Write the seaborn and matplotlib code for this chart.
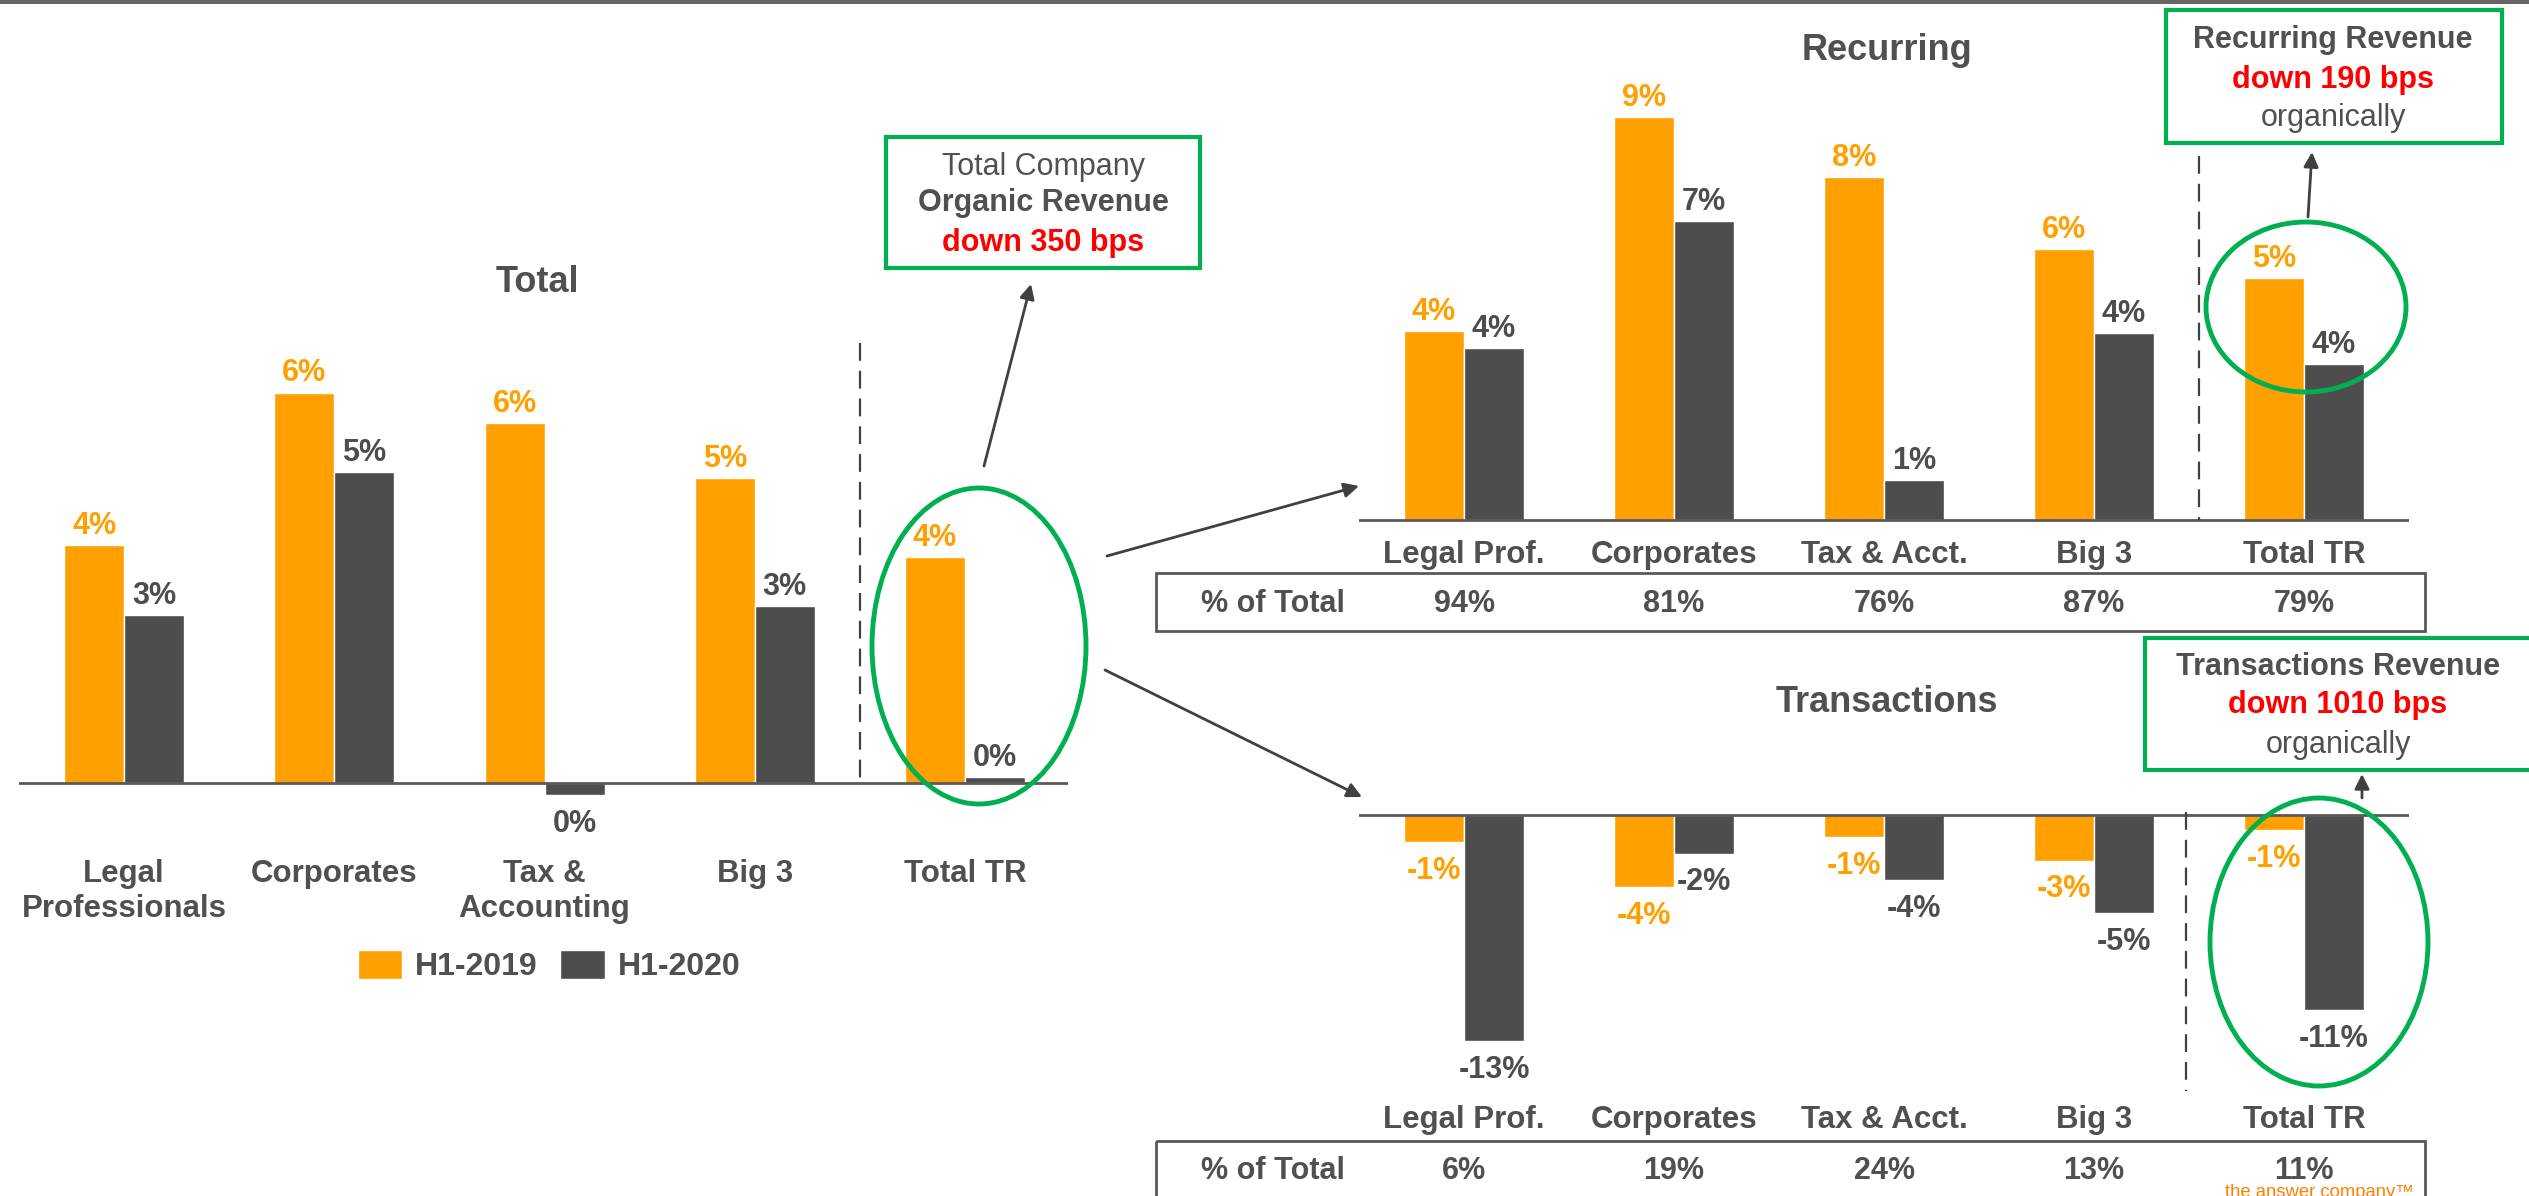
import matplotlib
matplotlib.use('Agg')
import matplotlib.pyplot as plt
import seaborn as sns
import pandas as pd
from matplotlib.patches import Ellipse, Rectangle
from matplotlib.transforms import blended_transform_factory

periods = ['H1-2019', 'H1-2020']

total_cats = ['Legal\nProfessionals', 'Corporates', 'Tax &\nAccounting', 'Big 3', 'Total TR']
total_2019 = [3.9, 6.4, 5.9, 5.0, 3.7]
total_2020 = [2.75, 5.1, -0.2, 2.9, 0.1]
total_lab_2019 = ['4%', '6%', '6%', '5%', '4%']
total_lab_2020 = ['3%', '5%', '0%', '3%', '0%']

seg_cats = ['Legal Prof.', 'Corporates', 'Tax & Acct.', 'Big 3', 'Total TR']
rec_2019 = [4.3, 9.15, 7.8, 6.15, 5.5]
rec_2020 = [3.9, 6.8, 0.9, 4.25, 3.55]
rec_lab_2019 = ['4%', '9%', '8%', '6%', '5%']
rec_lab_2020 = ['4%', '7%', '1%', '4%', '4%']
rec_share = ['94%', '81%', '76%', '87%', '79%']

tra_2019 = [-1.55, -4.1, -1.25, -2.6, -0.85]
tra_2020 = [-12.9, -2.2, -3.7, -5.6, -11.15]
tra_lab_2019 = ['-1%', '-4%', '-1%', '-3%', '-1%']
tra_lab_2020 = ['-13%', '-2%', '-4%', '-5%', '-11%']
tra_share = ['6%', '19%', '24%', '13%', '11%']

ORANGE = '#FFA000'
DARK = '#4D4D4D'
TXT = '#505050'
GREEN = '#00B050'
RED = '#FF0000'
LINE = '#404040'

W, H = 2529, 1196
sns.set_style('white')
plt.rcParams['font.family'] = ['Liberation Sans', 'DejaVu Sans']

fig = plt.figure(figsize=(W / 100, H / 100), dpi=100)


def px_axes(left, top, right, bottom):
    return fig.add_axes([left / W, 1 - bottom / H, (right - left) / W, (bottom - top) / H])


def long(cats, a, b):
    return pd.DataFrame({'cat': cats * 2, 'val': a + b,
                         'period': [periods[0]] * 5 + [periods[1]] * 5})


def bars(ax, cats, a, b, la, lb, xlim, ylim, pad, legend=False):
    sns.barplot(data=long(cats, a, b), x='cat', y='val', hue='period',
                palette=[ORANGE, DARK], saturation=1, width=0.571,
                errorbar=None, legend=legend, ax=ax)
    ax.set_xlim(*xlim)
    ax.set_ylim(*ylim)
    ax.set_xlabel('')
    ax.set_ylabel('')
    ax.set_yticks([])
    sns.despine(ax=ax, left=True, bottom=True)
    ax.axhline(0, color='#595959', lw=2, zorder=3)
    ax.tick_params(axis='x', length=0, pad=pad, labelsize=22.5, labelcolor=TXT)
    for lab in ax.get_xticklabels():
        lab.set_fontweight('bold')
    for cont, labs, col in zip(ax.containers, [la, lb], [ORANGE, DARK]):
        for bar, lab in zip(cont, labs):
            x = bar.get_x() + bar.get_width() / 2
            v = bar.get_y() + bar.get_height() if bar.get_height() >= 0 else bar.get_y() + bar.get_height()
            up = bar.get_height() >= 0
            ax.annotate(lab, (x, v), xytext=(0, 3 if up else -10), textcoords='offset points',
                        ha='center', va='bottom' if up else 'top', fontsize=22,
                        fontweight='bold', color=col)


# left: total
ax1 = px_axes(19, 300, 1068, 830)
bars(ax1, total_cats, total_2019, total_2020, total_lab_2019, total_lab_2020,
     (-0.5, 4.49), (-(830 - 783) / 61, (783 - 300) / 61), 21, legend=True)
sns.move_legend(ax1, 'center', bbox_to_anchor=(549 / W, 1 - 966 / H),
                bbox_transform=fig.transFigure, ncol=2, frameon=False, title=None,
                fontsize=23, handlelength=1.4, handleheight=1.05,
                handletextpad=0.4, columnspacing=0.7)
for t in ax1.get_legend().get_texts():
    t.set_fontweight('bold')
    t.set_color(TXT)

# right top: recurring
ax2 = px_axes(1359, 60, 2409, 525)
bars(ax2, seg_cats, rec_2019, rec_2020, rec_lab_2019, rec_lab_2020,
     (-0.5, 4.5), (-5 / 44, 460 / 44), 11)

# right bottom: transactions
ax3 = px_axes(1359, 790, 2409, 1090)
bars(ax3, seg_cats, tra_2019, tra_2020, tra_lab_2019, tra_lab_2020,
     (-0.5, 4.5), (-275 / 17.5, 25 / 17.5), 10.5)

# overlay in pixel coordinates
ov = fig.add_axes([0, 0, 1, 1], zorder=10)
ov.set_xlim(0, W)
ov.set_ylim(H, 0)
ov.axis('off')

ov.add_patch(Rectangle((0, 0), W, 3.5, color='#666666', lw=0))

ov.text(537, 283, 'Total', ha='center', va='center', fontsize=26, fontweight='bold', color=TXT)
ov.text(1887, 50, 'Recurring', ha='center', va='center', fontsize=26, fontweight='bold', color=TXT)
ov.text(1887, 703, 'Transactions', ha='center', va='center', fontsize=26, fontweight='bold', color=TXT)

# dashed separators
for ax, xs, y0, y1 in [(ax1, 3.5, 343, 783), (ax2, 3.5, 156, 520), (ax3, 3.44, 812, 1091)]:
    tr = blended_transform_factory(ax.transData, ov.transData)
    ov.plot([xs, xs], [y0, y1], transform=tr, color=LINE, lw=1.6, ls=(0, (8, 4.5)))

# share tables
for ax, shares, top, bottom, ty in [(ax2, rec_share, 573, 631, 604), (ax3, tra_share, 1141, 1215, 1171)]:
    ov.add_patch(Rectangle((1156, top), 2425 - 1156, bottom - top, fill=False, ec='#595959', lw=2))
    ov.text(1273, ty, '% of Total', ha='center', va='center', fontsize=22, fontweight='bold', color=TXT)
    tr = blended_transform_factory(ax.transData, ov.transData)
    for i, s in enumerate(shares):
        ov.text(i, ty, s, transform=tr, ha='center', va='center', fontsize=22,
                fontweight='bold', color=TXT)

# callout boxes
boxes = [
    ((886, 137, 1200, 268), [('Total Company', 'normal', TXT, 167),
                             ('Organic Revenue', 'bold', TXT, 203),
                             ('down 350 bps', 'bold', RED, 243)], 1043),
    ((2166, 10, 2502, 143), [('Recurring Revenue', 'bold', TXT, 40),
                             ('down 190 bps', 'bold', RED, 80),
                             ('organically', 'normal', TXT, 118)], 2333),
    ((2145, 638, 2545, 770), [('Transactions Revenue', 'bold', TXT, 667),
                              ('down 1010 bps', 'bold', RED, 705),
                              ('organically', 'normal', TXT, 745)], 2338),
]
for (x0, y0, x1, y1), lines, cx in boxes:
    ov.add_patch(Rectangle((x0, y0), x1 - x0, y1 - y0, fc='white', ec=GREEN, lw=3, zorder=5))
    for s, wt, col, y in lines:
        ov.text(cx, y, s, ha='center', va='center', fontsize=22, fontweight=wt, color=col, zorder=6)

# highlight ellipses
for cx, cy, w, h in [(979, 646, 214, 316), (2306, 307, 200, 170), (2319, 942, 218, 288)]:
    ov.add_patch(Ellipse((cx, cy), w, h, fill=False, ec=GREEN, lw=3.5, zorder=7))

# arrows
for tail, head in [((984, 466), (1031, 284)), ((1107, 556), (1359, 486)),
                   ((1105, 670), (1362, 797)), ((2308, 217), (2312, 152)),
                   ((2362, 798), (2362, 774))]:
    ov.annotate('', xy=head, xytext=tail,
                arrowprops=dict(arrowstyle='-|>', color=LINE, lw=2, mutation_scale=22,
                                shrinkA=0, shrinkB=0))

ov.text(2319, 1197, 'the answer company\u2122', ha='center', va='baseline',
        fontsize=13.3, color='#FF8000')

fig.savefig('out.png', dpi=100)
